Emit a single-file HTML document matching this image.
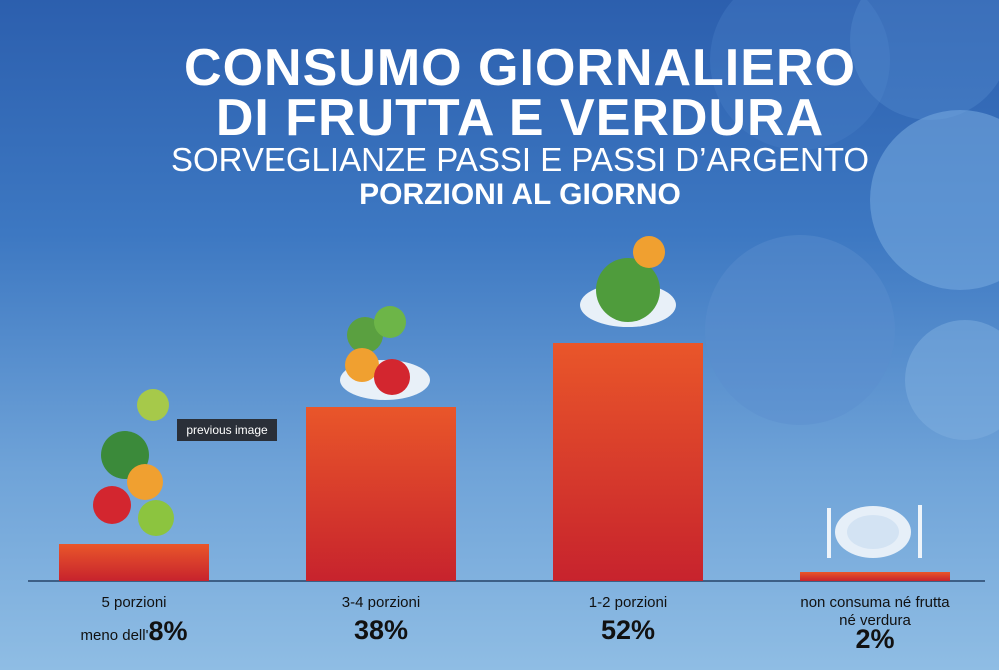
<!DOCTYPE html>
<html><head><meta charset="utf-8"><style>
html,body{margin:0;padding:0}
body{width:999px;height:670px;overflow:hidden;position:relative;font-family:"Liberation Sans",sans-serif;
background:linear-gradient(180deg,#2c5fae 0%,#3d78c2 35%,#6fa3d8 70%,#8fbde4 100%);}
.t{position:absolute;left:0;width:1040px;text-align:center;color:#fff;white-space:nowrap}
.bar{position:absolute;width:150px;background:linear-gradient(180deg,#e9562a,#c7232d)}
.lab{position:absolute;width:240px;text-align:center;color:#111;font-size:15px;line-height:18px}
.pct{font-weight:bold;font-size:27px}
</style></head><body>
<svg style="position:absolute;left:0;top:0" width="999" height="670">
 <circle cx="800" cy="60" r="90" fill="#4a82c8" opacity=".35"/>
 <circle cx="930" cy="40" r="80" fill="#5a90d0" opacity=".35"/>
 <circle cx="960" cy="200" r="90" fill="#79abe0" opacity=".55"/>
 <circle cx="800" cy="330" r="95" fill="#5b8fcf" opacity=".45"/>
 <circle cx="965" cy="380" r="60" fill="#7fb0e0" opacity=".5"/>
 <line x1="28" y1="581" x2="985" y2="581" stroke="#3d5f86" stroke-width="2"/>
 <circle cx="153" cy="405" r="16" fill="#a6c94a"/>
 <circle cx="125" cy="455" r="24" fill="#3b8a3a"/>
 <circle cx="145" cy="482" r="18" fill="#f0a030"/>
 <circle cx="112" cy="505" r="19" fill="#d3262f"/>
 <circle cx="156" cy="518" r="18" fill="#8cc43f"/>
 <ellipse cx="385" cy="380" rx="45" ry="20" fill="#e8f0f8"/>
 <circle cx="365" cy="335" r="18" fill="#5aa040"/>
 <circle cx="390" cy="322" r="16" fill="#6db548"/>
 <circle cx="362" cy="365" r="17" fill="#f0a030"/>
 <circle cx="392" cy="377" r="18" fill="#d3262f"/>
 <ellipse cx="628" cy="305" rx="48" ry="22" fill="#e8f0f8"/>
 <circle cx="628" cy="290" r="32" fill="#4f9c3c"/>
 <circle cx="649" cy="252" r="16" fill="#f0a030"/>
 <ellipse cx="873" cy="532" rx="38" ry="26" fill="#e6eff8"/>
 <ellipse cx="873" cy="532" rx="26" ry="17" fill="#d3e3f3"/>
 <rect x="827" y="508" width="4" height="50" fill="#eef4fa"/>
 <rect x="918" y="505" width="4" height="53" fill="#eef4fa"/>
</svg>
<div class="t" style="top:38px;font-size:52px;font-weight:900;letter-spacing:1px">CONSUMO GIORNALIERO</div>
<div class="t" style="top:88px;font-size:52px;font-weight:900;letter-spacing:1px">DI FRUTTA E VERDURA</div>
<div class="t" style="top:141px;font-size:33px;">SORVEGLIANZE PASSI E PASSI D’ARGENTO</div>
<div class="t" style="top:178px;font-size:30px;font-weight:bold">PORZIONI AL GIORNO</div>
<div style="position:absolute;left:177px;top:419px;width:100px;height:22px;background:#2a2f38;color:#fff;font-size:12px;line-height:22px;text-align:center">previous image</div>
<div class="bar" style="left:59px;top:544px;height:37px"></div>
<div class="bar" style="left:306px;top:407px;height:174px"></div>
<div class="bar" style="left:553px;top:343px;height:238px"></div>
<div class="bar" style="left:800px;top:572px;height:9px"></div>
<div class="lab" style="left:14px;top:594px">5 porzioni<br><span style="position:relative;top:10px">meno dell'<span class="pct">8%</span></span></div>
<div class="lab" style="left:261px;top:594px">3-4 porzioni<br><span class="pct" style="line-height:36px">38%</span></div>
<div class="lab" style="left:508px;top:594px">1-2 porzioni<br><span class="pct" style="line-height:36px">52%</span></div>
<div class="lab" style="left:755px;top:594px">non consuma né frutta<br>né verdura<br><span class="pct">2%</span></div>
</body></html>
